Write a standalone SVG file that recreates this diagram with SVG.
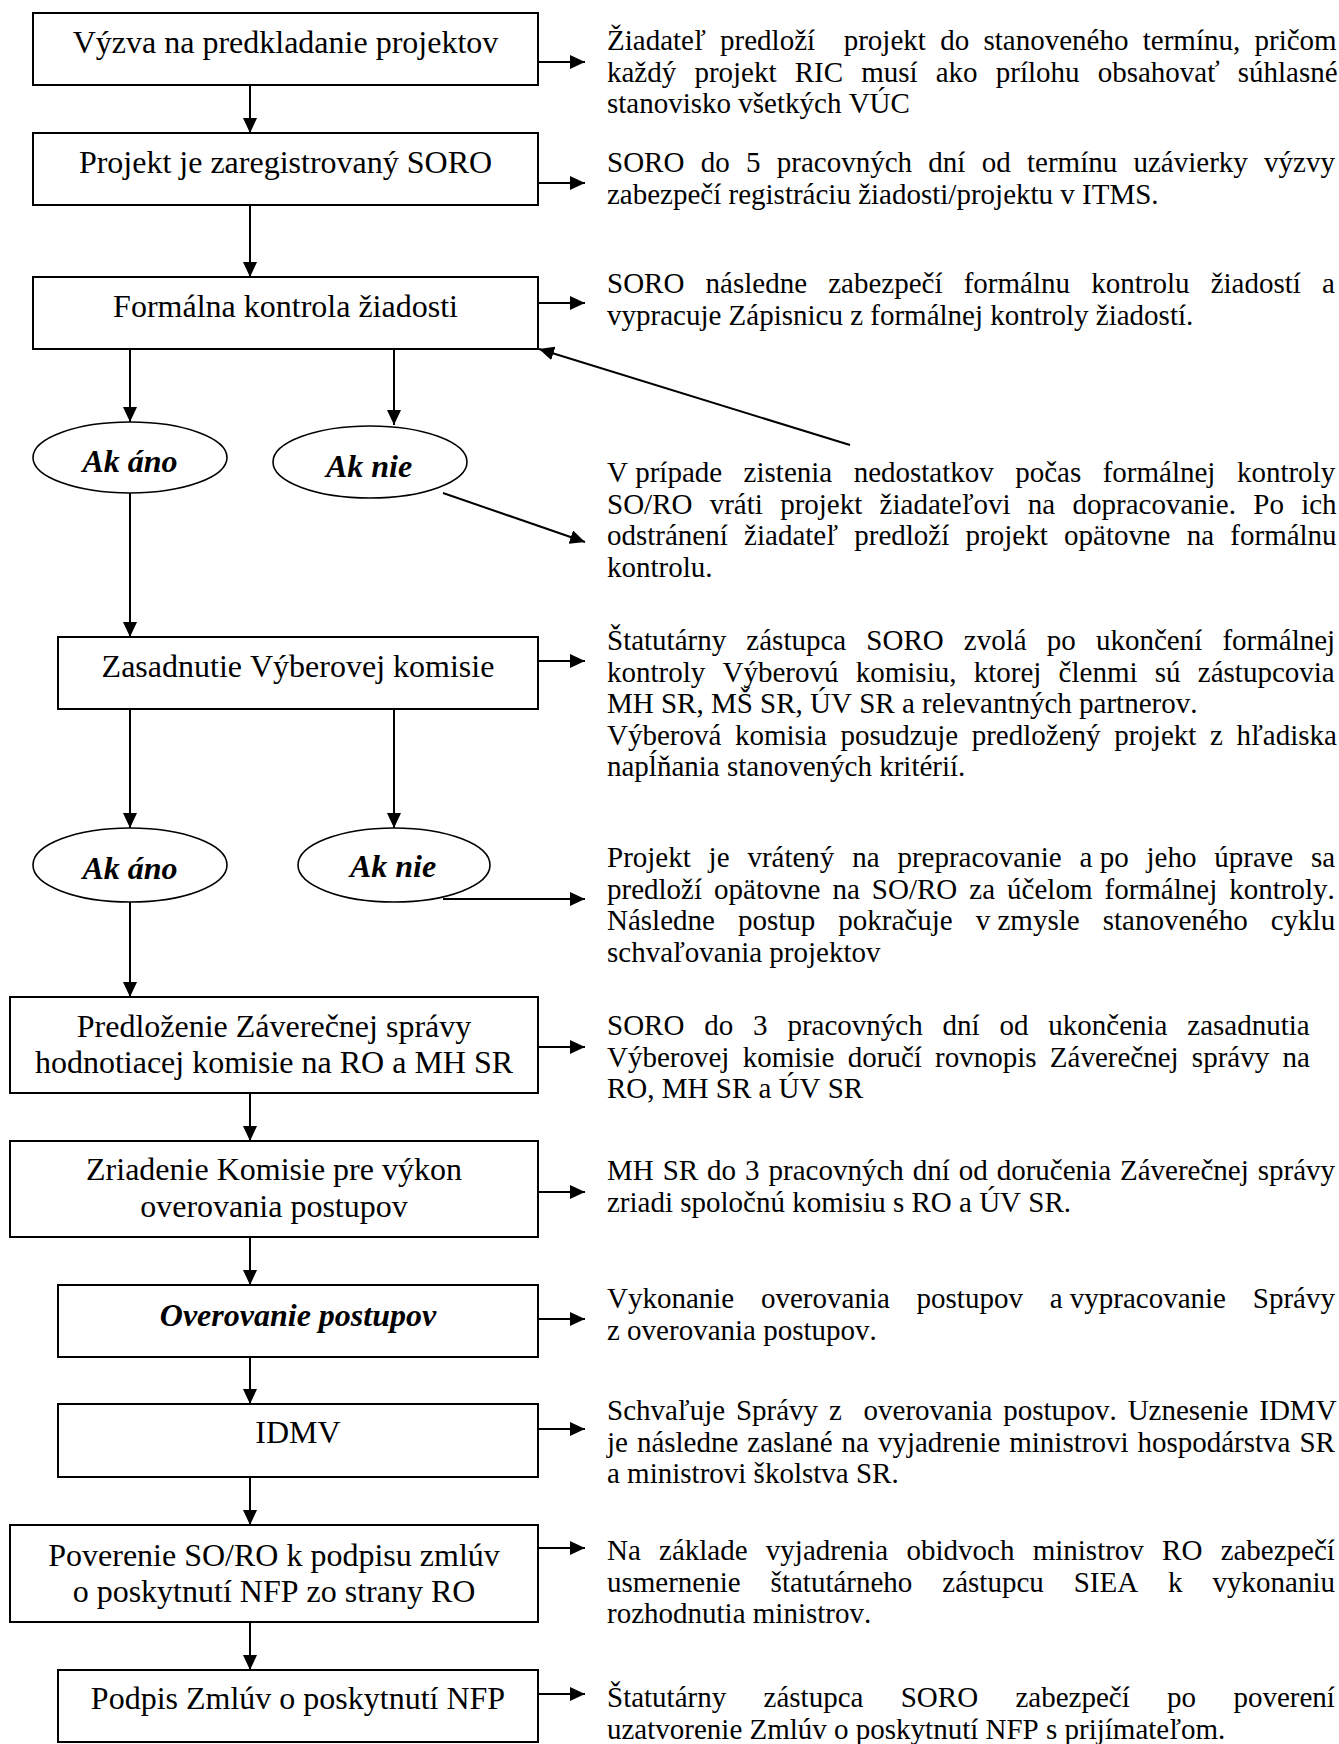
<svg xmlns="http://www.w3.org/2000/svg" width="1339" height="1744" viewBox="0 0 1339 1744">
<style>
text{font-family:"Liberation Serif","Times New Roman",serif;fill:#000;font-kerning:none}
.b{font-size:32px;text-anchor:middle}
.bi{font-size:32px;font-weight:bold;font-style:italic;text-anchor:middle}
.s{font-size:29px}
.n{word-spacing:0}
.box{fill:#fff;stroke:#000;stroke-width:2}
.ell{fill:#fff;stroke:#000;stroke-width:1.6}
.ln{stroke:#000;stroke-width:2;fill:none;marker-end:url(#ah)}
</style>
<defs>
<marker id="ah" viewBox="0 0 15 14" refX="15" refY="7" markerWidth="15" markerHeight="14" markerUnits="userSpaceOnUse" orient="auto">
<path d="M0,0 L15,7 L0,14 z" fill="#000"/>
</marker>
</defs>

<g id="connectors">
<line class="ln" x1="250" y1="85" x2="250" y2="133"/>
<line class="ln" x1="250" y1="205" x2="250" y2="277"/>
<line class="ln" x1="130" y1="349" x2="130" y2="422"/>
<line class="ln" x1="394" y1="349" x2="394" y2="425"/>
<line class="ln" x1="130" y1="493" x2="130" y2="637"/>
<line class="ln" x1="130" y1="709" x2="130" y2="828"/>
<line class="ln" x1="394" y1="709" x2="394" y2="828"/>
<line class="ln" x1="130" y1="902" x2="130" y2="997"/>
<line class="ln" x1="250" y1="1093" x2="250" y2="1141"/>
<line class="ln" x1="250" y1="1237" x2="250" y2="1285"/>
<line class="ln" x1="250" y1="1357" x2="250" y2="1404"/>
<line class="ln" x1="250" y1="1477" x2="250" y2="1525"/>
<line class="ln" x1="250" y1="1622" x2="250" y2="1670"/>
<line class="ln" x1="538" y1="62" x2="585" y2="62"/>
<line class="ln" x1="538" y1="183" x2="585" y2="183"/>
<line class="ln" x1="538" y1="303" x2="585" y2="303"/>
<line class="ln" x1="850" y1="445" x2="539" y2="349"/>
<line class="ln" x1="443" y1="493" x2="585" y2="542"/>
<line class="ln" x1="538" y1="661" x2="585" y2="661"/>
<line class="ln" x1="443" y1="899" x2="585" y2="899"/>
<line class="ln" x1="538" y1="1047" x2="585" y2="1047"/>
<line class="ln" x1="538" y1="1192" x2="585" y2="1192"/>
<line class="ln" x1="538" y1="1319" x2="585" y2="1319"/>
<line class="ln" x1="538" y1="1429" x2="585" y2="1429"/>
<line class="ln" x1="538" y1="1548" x2="585" y2="1548"/>
<line class="ln" x1="538" y1="1694" x2="585" y2="1694"/>
</g>

<g id="n-vyzva"><rect class="box" x="33" y="13" width="505" height="72"/><text class="b" x="285.5" y="53">Výzva na predkladanie projektov</text></g>
<g id="n-registracia"><rect class="box" x="33" y="133" width="505" height="72"/><text class="b" x="285.5" y="173">Projekt je zaregistrovaný SORO</text></g>
<g id="n-formalna"><rect class="box" x="33" y="277" width="505" height="72"/><text class="b" x="285.5" y="317">Formálna kontrola žiadosti</text></g>
<g id="n-ano1"><ellipse class="ell" cx="130" cy="457.5" rx="97" ry="35.5"/><text class="bi" x="130" y="472">Ak áno</text></g>
<g id="n-nie1"><ellipse class="ell" cx="370" cy="462" rx="97" ry="36"/><text class="bi" x="369" y="477">Ak nie</text></g>
<g id="n-zasadnutie"><rect class="box" x="58" y="637" width="480" height="72"/><text class="b" x="298" y="677">Zasadnutie Výberovej komisie</text></g>
<g id="n-ano2"><ellipse class="ell" cx="130" cy="865" rx="97" ry="37"/><text class="bi" x="130" y="879">Ak áno</text></g>
<g id="n-nie2"><ellipse class="ell" cx="394" cy="865" rx="96" ry="37"/><text class="bi" x="393" y="877">Ak nie</text></g>
<g id="n-predlozenie"><rect class="box" x="10" y="997" width="528" height="96"/><text class="b" x="274" y="1037">Predloženie Záverečnej správy</text><text class="b" x="274" y="1073">hodnotiacej komisie na RO a MH SR</text></g>
<g id="n-zriadenie"><rect class="box" x="10" y="1141" width="528" height="96"/><text class="b" x="274" y="1180">Zriadenie Komisie pre výkon</text><text class="b" x="274" y="1217">overovania postupov</text></g>
<g id="n-overovanie"><rect class="box" x="58" y="1285" width="480" height="72"/><text class="bi" x="298" y="1326">Overovanie postupov</text></g>
<g id="n-idmv"><rect class="box" x="58" y="1404" width="480" height="73"/><text class="b" x="298" y="1443">IDMV</text></g>
<g id="n-poverenie"><rect class="box" x="10" y="1525" width="528" height="97"/><text class="b" x="274" y="1566">Poverenie SO/RO k podpisu zmlúv</text><text class="b" x="274" y="1602">o poskytnutí NFP zo strany RO</text></g>
<g id="n-podpis"><rect class="box" x="58" y="1670" width="480" height="72"/><text class="b" x="298" y="1709">Podpis Zmlúv o poskytnutí NFP</text></g>

<g id="t1">
<text class="s" x="607" y="50" xml:space="preserve" style="word-spacing:7.07px">Žiadateľ predloží  projekt do stanoveného termínu, pričom</text>
<text class="s" x="607" y="81.5" style="word-spacing:10.9px">každý projekt RIC musí ako prílohu obsahovať súhlasné</text>
<text class="s" x="607" y="113">stanovisko všetkých VÚC</text>
</g>
<g id="t2">
<text class="s" x="607" y="172" style="word-spacing:9.05px">SORO do 5 pracovných dní od termínu uzávierky výzvy</text>
<text class="s" x="607" y="203.5">zabezpečí registráciu žiadosti/projektu v ITMS.</text>
</g>
<g id="t3">
<text class="s" x="607" y="293" style="word-spacing:13.95px">SORO následne zabezpečí formálnu kontrolu žiadostí a</text>
<text class="s" x="607" y="324.5">vypracuje Zápisnicu z formálnej kontroly žiadostí.</text>
</g>
<g id="t4">
<text class="s" x="607" y="482" style="word-spacing:14.2px"><tspan class="n">V prípade</tspan> zistenia nedostatkov počas formálnej kontroly</text>
<text class="s" x="607" y="513.5" style="word-spacing:10.05px">SO/RO vráti projekt žiadateľovi na dopracovanie. Po ich</text>
<text class="s" x="607" y="545" style="word-spacing:9.05px">odstránení žiadateľ predloží projekt opätovne na formálnu</text>
<text class="s" x="607" y="576.5">kontrolu.</text>
</g>
<g id="t5">
<text class="s" x="607" y="650" style="word-spacing:12.9px">Štatutárny zástupca SORO zvolá po ukončení formálnej</text>
<text class="s" x="607" y="681.5" style="word-spacing:10px">kontroly Výberovú komisiu, ktorej členmi sú zástupcovia</text>
<text class="s" x="607" y="713">MH SR, MŠ SR, ÚV SR a relevantných partnerov.</text>
<text class="s" x="607" y="744.5" style="word-spacing:6.4px">Výberová komisia posudzuje predložený projekt z hľadiska</text>
<text class="s" x="607" y="776">napĺňania stanovených kritérií.</text>
</g>
<g id="t6">
<text class="s" x="607" y="867" style="word-spacing:10.6px">Projekt je vrátený na prepracovanie <tspan class="n">a po</tspan> jeho úprave sa</text>
<text class="s" x="607" y="898.5" style="word-spacing:4.8px">predloží opätovne na SO/RO za účelom formálnej kontroly.</text>
<text class="s" x="607" y="930" style="word-spacing:15.8px">Následne postup pokračuje <tspan class="n">v zmysle</tspan> stanoveného cyklu</text>
<text class="s" x="607" y="961.5">schvaľovania projektov</text>
</g>
<g id="t7">
<text class="s" x="607" y="1035" style="word-spacing:12.6px">SORO do 3 pracovných dní od ukončenia zasadnutia</text>
<text class="s" x="607" y="1066.5" style="word-spacing:6px">Výberovej komisie doručí rovnopis Záverečnej správy na</text>
<text class="s" x="607" y="1098">RO, MH SR a ÚV SR</text>
</g>
<g id="t8">
<text class="s" x="607" y="1180" style="word-spacing:1.7px">MH SR do 3 pracovných dní od doručenia Záverečnej správy</text>
<text class="s" x="607" y="1211.5">zriadi spoločnú komisiu s RO a ÚV SR.</text>
</g>
<g id="t9">
<text class="s" x="607" y="1308" style="word-spacing:19.5px">Vykonanie overovania postupov <tspan class="n">a vypracovanie</tspan> Správy</text>
<text class="s" x="607" y="1339.5">z overovania postupov.</text>
</g>
<g id="t10">
<text class="s" x="607" y="1420" xml:space="preserve" style="word-spacing:3.6px">Schvaľuje Správy z  overovania postupov. Uznesenie IDMV</text>
<text class="s" x="607" y="1451.5" style="word-spacing:1.7px">je následne zaslané na vyjadrenie ministrovi hospodárstva SR</text>
<text class="s" x="607" y="1483">a ministrovi školstva SR.</text>
</g>
<g id="t11">
<text class="s" x="607" y="1560" style="word-spacing:11px">Na základe vyjadrenia obidvoch ministrov RO zabezpečí</text>
<text class="s" x="607" y="1591.5" style="word-spacing:22.7px">usmernenie štatutárneho zástupcu SIEA k vykonaniu</text>
<text class="s" x="607" y="1623">rozhodnutia ministrov.</text>
</g>
<g id="t12">
<text class="s" x="607" y="1707" style="word-spacing:30.1px">Štatutárny zástupca SORO zabezpečí po poverení</text>
<text class="s" x="607" y="1738.5">uzatvorenie Zmlúv o poskytnutí NFP s prijímateľom.</text>
</g>
</svg>
